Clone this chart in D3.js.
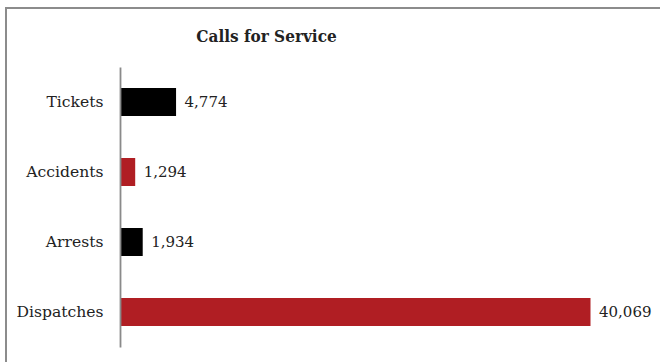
<!DOCTYPE html>
<html>
<head>
<meta charset="utf-8">
<script src="https://cdn.jsdelivr.net/npm/d3@7"></script>
<style>
  html, body { margin: 0; padding: 0; background: #fff; }
  svg { display: block; }
  text { font-family: "DejaVu Serif", "Liberation Serif", serif; fill: #222; }
</style>
</head>
<body>
<svg id="chart" width="660" height="362"></svg>
<script>
// Calls for Service, by type
const categories = ["Tickets", "Accidents", "Arrests", "Dispatches"];
const values = [4774, 1294, 1934, 40069];
const barColors = ["#000000", "#b01e23", "#000000", "#b01e23"];
const title = "Calls for Service";

const svg = d3.select("#chart");
const W = 660, H = 362;

// outer frame
svg.append("rect")
  .attr("x", 6).attr("y", 8)
  .attr("width", W + 20).attr("height", H + 20)
  .attr("fill", "none").attr("stroke", "#8c8c8c").attr("stroke-width", 2);

const x0 = 120;
const x = d3.scaleLinear().domain([0, 40069]).range([x0, 590.5]);
const y = d3.scaleBand().domain(categories).range([67, 347]).paddingInner(0.6).paddingOuter(0.3);

// title
svg.append("text")
  .attr("x", 266.5).attr("y", 42)
  .attr("text-anchor", "middle")
  .style("font-family", "'DejaVu Serif Condensed', 'DejaVu Serif', serif")
  .style("font-stretch", "condensed")
  .attr("font-weight", "bold")
  .attr("font-size", 17)
  .attr("fill", "#111")
  .text(title);

// bars
const data = categories.map((c, i) => ({ c, v: values[i], col: barColors[i] }));
svg.append("g").selectAll("rect").data(data).join("rect")
  .attr("x", x(0))
  .attr("y", d => y(d.c))
  .attr("width", d => x(d.v) - x(0))
  .attr("height", y.bandwidth())
  .attr("fill", d => d.col);

// value labels
const fmt = d3.format(",");
svg.append("g").selectAll("text").data(data).join("text")
  .attr("x", d => x(d.v) + 8.5)
  .attr("y", d => y(d.c) + y.bandwidth() / 2)
  .attr("dy", "0.36em")
  .attr("font-size", 15)
  .text(d => fmt(d.v));

// category axis
const axis = svg.append("g")
  .attr("transform", `translate(${x0},0)`)
  .call(d3.axisLeft(y).tickSize(0).tickPadding(16.5));
axis.select(".domain").attr("stroke", "#8a8a8a").attr("stroke-width", 1.8);
axis.selectAll("text")
  .attr("font-family", "DejaVu Serif, serif")
  .attr("font-size", 15.6)
  .attr("fill", "#222");
</script>
</body>
</html>
